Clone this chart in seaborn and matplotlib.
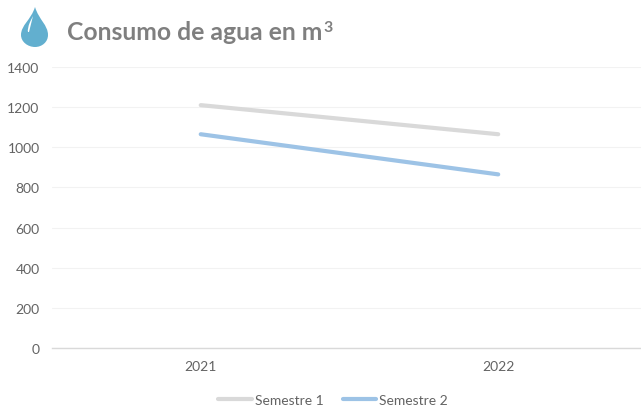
import numpy as np
import pandas as pd
import seaborn as sns
import matplotlib.pyplot as plt
from matplotlib.patches import PathPatch
from matplotlib.path import Path

# Data
years = ['2021', '2022']
semestre_1 = [1210, 1065]
semestre_2 = [1065, 865]
y_ticks = [0, 200, 400, 600, 800, 1000, 1200, 1400]

df = pd.DataFrame({
    'year': years * 2,
    'value': semestre_1 + semestre_2,
    'serie': ['Semestre 1'] * 2 + ['Semestre 2'] * 2,
})

sns.set_theme(style='white')
plt.rcParams['font.family'] = ['Lato', 'DejaVu Sans']

W, H = 641, 410
fig = plt.figure(figsize=(W / 100, H / 100), dpi=100)
ax = fig.add_axes([52 / W, 1 - 349 / H, (W - 52) / W, (349 - 68) / H])

palette = {'Semestre 1': '#d9d9d9', 'Semestre 2': '#9dc3e6'}
sns.lineplot(data=df, x='year', y='value', hue='serie', palette=palette,
             linewidth=3, ax=ax, legend=False, sort=False)

# Axes
ax.set_xlim(-0.5, 1.48)
ax.set_ylim(0, 1400)
ax.set_yticks(y_ticks)
ax.set_xlabel('')
ax.set_ylabel('')
ax.grid(axis='y', color='#f2f2f2', linewidth=0.8)
ax.set_axisbelow(True)
for side in ['top', 'right', 'left']:
    ax.spines[side].set_visible(False)
ax.spines['bottom'].set_color('#d9d9d9')
ax.spines['bottom'].set_linewidth(1)
ax.tick_params(axis='both', length=0, labelcolor='#636363', labelsize=10)
ax.tick_params(axis='x', pad=9)
ax.tick_params(axis='y', pad=9)

# Title
fig.text(67 / W, 1 - 33 / H, 'Consumo de agua en m', color='#7f7f7f',
         fontsize=17.8, fontweight='bold', va='center', ha='left')
fig.text(323 / W, 1 - 28 / H, '3', color='#7f7f7f',
         fontsize=11.5, fontweight='bold', va='center', ha='left')

# Drop icon, in pixel position
def px(x, y):
    return (x / W, 1 - y / H)

drop = Path(
    [px(35, 8), px(31, 21), px(21, 26), px(21, 36), px(21, 43), px(28, 48), px(35, 48),
     px(42, 48), px(48, 43), px(48, 36), px(48, 26), px(39, 21), px(35, 8)],
    [Path.MOVETO] + [Path.CURVE4] * 12,
)
fig.add_artist(PathPatch(drop, transform=fig.transFigure, facecolor='#62afcf', edgecolor='none'))
shine = Path(
    [px(33, 17), px(30, 23), px(27, 30), px(28, 33), px(29, 33), px(33, 17)],
    [Path.MOVETO, Path.LINETO, Path.CURVE3, Path.CURVE3, Path.LINETO, Path.CLOSEPOLY],
)
fig.add_artist(PathPatch(shine, transform=fig.transFigure, facecolor='white', edgecolor='none'))

# Legend
handles = [plt.Line2D([], [], color=palette[s], linewidth=3) for s in palette]
fig.legend(handles, list(palette), loc='center', bbox_to_anchor=(333 / W, 1 - 401 / H),
           ncol=2, frameon=False, fontsize=10, labelcolor='#636363',
           handlelength=2.4, handletextpad=0.2, columnspacing=1.4,
           borderpad=0, borderaxespad=0)

fig.savefig('out.png', dpi=100)
